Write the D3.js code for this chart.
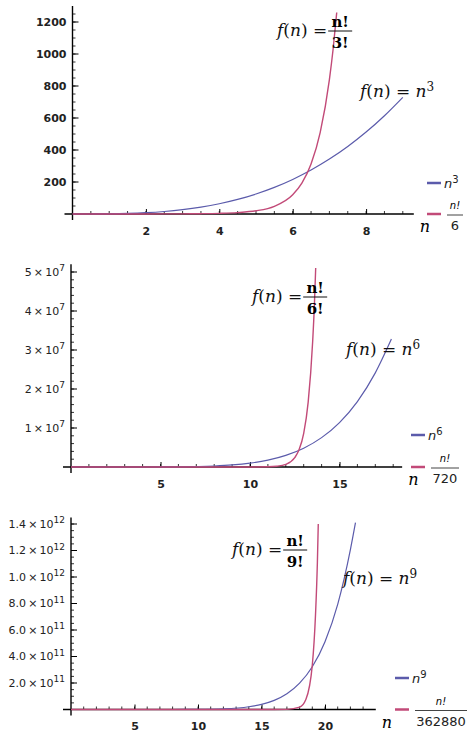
<!DOCTYPE html><html><head><meta charset="utf-8">
<script src="https://cdn.jsdelivr.net/npm/d3@7"></script>
<style>body{margin:0;background:#fff}</style></head><body>
<script>
// Panel 1
const n1Blue=[0,0.5,1,1.5,2,2.5,3,3.5,4,4.5,5,5.5,6,6.5,7,7.5,8,8.5,9];
const v1Blue=[0,0.125,1,3.4,8,15.6,27,42.9,64,91.1,125,166.4,216,274.6,343,421.9,512,614.1,729];
const n1Red=[0,1,2,3,3.5,4,4.5,5,5.5,6,6.25,6.5,6.75,7,7.1,7.2];
const v1Red=[0.17,0.17,0.33,1,1.94,4,8.7,20,48,120,192.6,311.9,509.7,840,1028,1260];
const yTicks1=[200,400,600,800,1000,1200];
const xTicks1=[2,4,6,8];
// Panel 2
const n2Blue=[0,2,4,6,8,9,10,11,12,13,14,15,16,17,17.9];
const v2Blue=[0,64,4096,46656,262144,531441,1e6,1.77e6,2.99e6,4.83e6,7.53e6,1.139e7,1.678e7,2.414e7,3.28e7];
const n2Red=[0,6,8,10,11,11.5,12,12.5,12.75,13,13.25,13.5,13.6,13.67];
const v2Red=[0,1,56,5040,55440,1.9e5,6.65e5,2.38e6,4.53e6,8.65e6,1.665e7,3.21e7,4.18e7,5.1e7];
const yTicks2=[1,2,3,4,5];
const xTicks2=[5,10,15];
// Panel 3
const n3Blue=[0,5,8,10,12,14,15,16,17,18,19,20,21,22,22.4];
const v3Blue=[0,1.95e6,1.34e8,1e9,5.16e9,2.07e10,3.84e10,6.87e10,1.186e11,1.984e11,3.227e11,5.12e11,7.94e11,1.207e12,1.41e12];
const n3Red=[0,10,16,17,18,18.5,19,19.25,19.4,19.47];
const v3Red=[0,0,5.8e7,9.8e8,1.76e10,7.69e10,3.35e11,7.09e11,1.109e12,1.4e12];
const yTicks3=[2,4,6,8,10,12,14];
const xTicks3=[5,10,15,20];

const BLUE="#5b5bab", RED="#c24a78";
const SANS="'DejaVu Sans',sans-serif", SERIF="'DejaVu Serif',serif";
const svg=d3.select("body").append("svg").attr("width",474).attr("height",733).style("font-family",SANS);

function panel(o){
  const g=svg.append("g");
  const x=d3.scaleLinear().domain(o.xd).range([o.x0,o.x1]);
  const y=d3.scaleLinear().domain(o.yd).range([o.y0,o.y1]);
  const xm=d3.range(o.xMinor,o.xd[1],o.xMinor);
  g.selectAll(null).data(xm).join("line").attr("x1",d=>x(d)).attr("x2",d=>x(d))
    .attr("y1",y(0)-3).attr("y2",y(0)).attr("stroke","#000").attr("stroke-width",0.8);
  const ym=d3.range(o.yMinor,o.yd[1],o.yMinor);
  g.selectAll(null).data(ym).join("line").attr("x1",x(0)).attr("x2",x(0)+3)
    .attr("y1",d=>y(d)).attr("y2",d=>y(d)).attr("stroke","#000").attr("stroke-width",0.8);
  const xa=d3.axisBottom(x).tickValues(o.xt).tickSize(0).tickFormat(d3.format("d"));
  const xg=g.append("g").attr("transform",`translate(0,${y(0)})`).call(xa);
  xg.select(".domain").remove();
  xg.selectAll("text").attr("dy","1.6em").style("font-family",SANS).attr("font-size",11).attr("font-weight","bold").attr("fill","#222");
  xg.selectAll(".tick").append("line").attr("y1",-5).attr("y2",0).attr("stroke","#000");
  g.append("line").attr("x1",x(0)-8).attr("x2",o.x1).attr("y1",y(0)).attr("y2",y(0)).attr("stroke","#000").attr("stroke-width",1.4);
  g.append("line").attr("x1",x(0)).attr("x2",x(0)).attr("y1",y(0)+6).attr("y2",o.y1).attr("stroke","#000").attr("stroke-width",1.4);
  const yt=g.selectAll(null).data(o.yt).join("g").attr("transform",d=>`translate(${x(0)},${y(o.ys*d)})`);
  yt.append("line").attr("x2",6).attr("stroke","#000");
  const tx=yt.append("text").attr("x",-6).attr("dy","0.35em").attr("text-anchor","end")
    .attr("font-size",11).attr("fill","#222");
  tx.each(function(d){
    const t=d3.select(this);
    if(o.exp===undefined){t.text(d).attr("font-weight","bold");return;}
    t.append("tspan").text(o.mant(d)+"\u2009\u00d7\u200910");
    t.append("tspan").attr("dy","-0.5em").attr("font-size",9).text(o.expf(d));
  });
  const line=d3.line().x(d=>x(d[0])).y(d=>y(d[1])).curve(d3.curveMonotoneX);
  g.append("path").attr("d",line(d3.zip(o.nb,o.vb))).attr("fill","none").attr("stroke",BLUE).attr("stroke-width",1.2);
  g.append("path").attr("d",line(d3.zip(o.nr,o.vr))).attr("fill","none").attr("stroke",RED).attr("stroke-width",1.4);
  g.append("text").attr("x",o.x1+6).attr("y",y(0)+18).style("font-family",SERIF).attr("font-style","italic").attr("font-size",16).text("n");
  const lx=o.lx, ly1=o.ly1, ly2=y(0);
  g.append("line").attr("x1",lx).attr("x2",lx+14).attr("y1",ly1).attr("y2",ly1).attr("stroke",BLUE).attr("stroke-width",2.5);
  const lt=g.append("text").attr("x",lx+17).attr("y",ly1+5).attr("font-size",13).attr("fill","#222");
  lt.append("tspan").attr("font-style","italic").text("n");
  lt.append("tspan").attr("dy","-0.5em").attr("font-size",10).text(o.pow);
  g.append("line").attr("x1",lx).attr("x2",lx+14).attr("y1",ly2).attr("y2",ly2).attr("stroke",RED).attr("stroke-width",2.5);
  const cx=lx+20+o.denW/2;
  g.append("text").attr("x",cx).attr("y",ly2-5).attr("text-anchor","middle").attr("font-size",10).attr("font-style","italic").text("n!");
  g.append("line").attr("x1",lx+20).attr("x2",lx+20+o.denW).attr("y1",ly2+1).attr("y2",ly2+1).attr("stroke","#444");
  g.append("text").attr("x",cx).attr("y",ly2+16).attr("text-anchor","middle").attr("font-size",13).attr("fill","#222").text(o.den);
  function fn(xp,yp){
    const t=g.append("text").attr("x",xp).attr("y",yp).style("font-family",SERIF).attr("font-size",17).attr("fill","#111");
    t.append("tspan").attr("font-style","italic").text("f");
    t.append("tspan").text("(");t.append("tspan").attr("font-style","italic").text("n");t.append("tspan").text(") = ");
    return t;
  }
  const a=fn(o.ar[0],o.ar[1]);
  const fx=o.ar[0]+a.node().getComputedTextLength()+1;
  g.append("text").attr("x",fx+12).attr("y",o.ar[1]-9).attr("text-anchor","middle").style("font-family",SERIF).attr("font-size",15).attr("font-weight","bold").text("n!");
  g.append("line").attr("x1",fx).attr("x2",fx+24).attr("y1",o.ar[1]-5).attr("y2",o.ar[1]-5).attr("stroke","#111");
  g.append("text").attr("x",fx+12).attr("y",o.ar[1]+12).attr("text-anchor","middle").style("font-family",SERIF).attr("font-size",15).attr("font-weight","bold").text(o.fact);
  const b=fn(o.ab[0],o.ab[1]);
  b.append("tspan").attr("font-style","italic").text("n");
  b.append("tspan").attr("dy","-0.5em").attr("font-size",12).text(o.pow);
}

panel({xd:[0,9.3],x0:72.5,x1:72.5+9.3*36.7,yd:[0,1300],y0:214,y1:214-1300*0.16,ys:1,
  xt:xTicks1,yt:yTicks1,xMinor:0.5,yMinor:50,nb:n1Blue,vb:v1Blue,nr:n1Red,vr:v1Red,
  lx:427,ly1:183,pow:"3",den:"6",denW:16,ar:[277,36],fact:"3!",ab:[360,97]});
panel({xd:[0,18.5],x0:71,x1:71+18.5*17.9,yd:[0,5.2e7],y0:467,y1:467-5.2*39,ys:1e7,
  xt:xTicks2,yt:yTicks2,xMinor:1,yMinor:2e6,nb:n2Blue,vb:v2Blue,nr:n2Red,vr:v2Red,
  exp:true,mant:d=>d,expf:d=>"7",
  lx:411,ly1:435,pow:"6",den:"720",denW:28,ar:[252,302],fact:"6!",ab:[346,355]});
panel({xd:[0,24],x0:71,x1:71+24*12.7,yd:[0,1.45e12],y0:709.5,y1:709.5-14.5*13.25,ys:1e11,
  xt:xTicks3,yt:yTicks3,xMinor:1,yMinor:0.5e11,nb:n3Blue,vb:v3Blue,nr:n3Red,vr:v3Red,
  exp:true,mant:d=>(d>=10?(d/10).toFixed(1):d.toFixed(1)),expf:d=>d>=10?"12":"11",
  lx:395,ly1:678,pow:"9",den:"362880",denW:52,ar:[232,555],fact:"9!",ab:[343,584]});
</script></body></html>
